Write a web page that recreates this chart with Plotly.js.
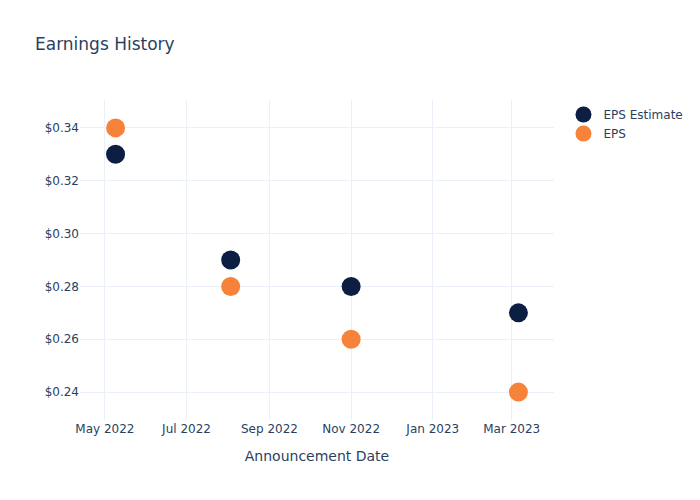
<!DOCTYPE html>
<html><head><meta charset="utf-8">
<script src="https://cdn.plot.ly/plotly-3.0.1.min.js"></script>
<style>body{margin:0}</style></head>
<body><div id="chart" style="width:700px;height:500px"></div>
<script>
const dates = ["2022-05-09", "2022-08-03", "2022-11-01", "2023-03-06"];
const epsEstimate = [0.33, 0.29, 0.28, 0.27];
const eps = [0.34, 0.28, 0.26, 0.24];

const traces = [
  {x: dates, y: epsEstimate, name: "EPS Estimate", type: "scatter", mode: "markers",
   marker: {color: "#0c1f42", size: 19}},
  {x: dates, y: eps, name: "EPS", type: "scatter", mode: "markers",
   marker: {color: "#f7823a", size: 19}}
];
const gridc = "#ebf0f8";
const layout = {
  width: 700, height: 500,
  font: {family: "DejaVu Sans, sans-serif", color: "#2a3f5f", size: 12},
  title: {text: "Earnings History", x: 0.05, font: {size: 17}},
  paper_bgcolor: "#fff", plot_bgcolor: "#fff",
  margin: {t: 100, b: 80, l: 80, r: 80},
  xaxis: {title: {text: "Announcement Date", standoff: 16}, gridcolor: gridc, zeroline: false,
          dtick: "M2", tickformat: "%b %Y", automargin: false},
  yaxis: {tickprefix: "$", tickformat: ".2f", gridcolor: gridc, zeroline: false},
  legend: {x: 1.02, y: 1, font: {size: 12}},
  showlegend: true
};
Plotly.newPlot("chart", traces, layout, {displayModeBar: false});
</script></body></html>
